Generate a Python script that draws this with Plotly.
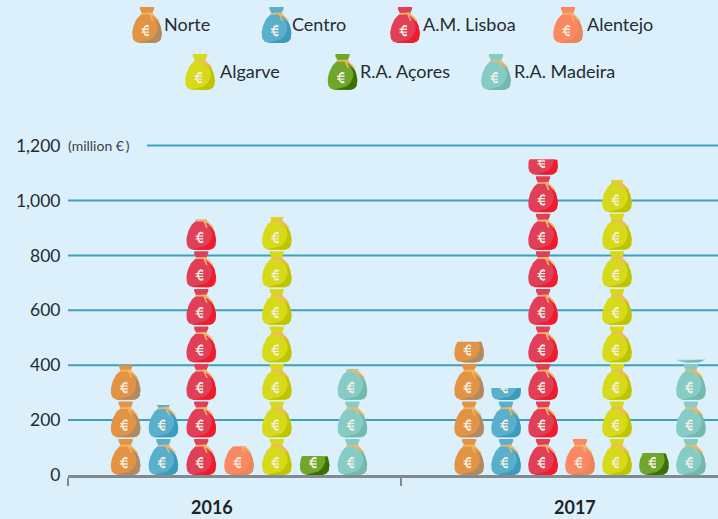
import math
import plotly.graph_objects as go

# ---- data ----
years = ["2016", "2017"]
regions = ["Norte", "Centro", "A.M. Lisboa", "Alentejo", "Algarve", "R.A. Açores", "R.A. Madeira"]
values_2016 = [400, 255, 930, 105, 940, 69, 386]
values_2017 = [485, 317, 1150, 135, 1075, 80, 420]
y_ticks = [0, 200, 400, 600, 800, 1000, 1200]
y_tick_labels = ["0", "200", "400", "600", "800", "1,000", "1,200"]
unit_label = "(million €\u2009)"
bag_value = 136.7  # one bag on the value axis

# ---- styles ----
base_colors = ["#E39344", "#58B0CC", "#E13F57", "#FB8763", "#D6DA18", "#70A72B", "#84CCC5"]
dark_colors = ["#B08A63", "#3C9ABD", "#F01C2B", "#E8875A", "#BEC400", "#3B7103", "#75B8AE"]
TIE = "#F1B768"
EURO = "#F4EEDF"
BG = "#DCF0FC"
GRID = "#3F9FBF"
AXIS = "#7F8A92"
TEXT = "#262B31"
FONT = "Lato"

# layout of figure
W, H = 718, 519
PX_LEFT, PX_ZERO, PX_TOP = 68, 475, 130
PX_PER_VALUE = 0.2745
PX_PER_GROUP = 333
X_RANGE = [-0.5, -0.5 + (W - PX_LEFT) / PX_PER_GROUP]
Y_RANGE = [0, (PX_ZERO - PX_TOP) / PX_PER_VALUE]
group_center = [0.0135, 1.0375]
group_step = [0.1135, 0.111]
bag_width = 0.0886
year_label_x = [-0.068, 1.0225]

# legend placement, in page pixels
legend_bag_x = [147, 276.5, 405, 568, 200, 342.5, 496]
legend_bag_bottom = [43, 43, 43, 43, 90, 90, 90]
legend_text_x = [163, 291, 422, 586, 219, 359, 513]
legend_text_y = [24, 24, 24, 24, 71, 71, 71]
legend_bag_w, legend_bag_h = 29.5, 37.5


def smooth(points, n=6):
    """Catmull-Rom through template points."""
    out = []
    p = [points[0]] + points + [points[-1]]
    for i in range(1, len(p) - 2):
        for k in range(n):
            t = k / n
            row = []
            for a in range(2):
                p0, p1, p2, p3 = p[i - 1][a], p[i][a], p[i + 1][a], p[i + 2][a]
                row.append(0.5 * (2 * p1 + (p2 - p0) * t + (2 * p0 - 5 * p1 + 4 * p2 - p3) * t * t
                                  + (3 * p1 - p0 - 3 * p2 + p3) * t ** 3))
            out.append(tuple(row))
    out.append(points[-1])
    return out


neck = [(0.24, 0.96), (0.24, 0.90), (0.20, 0.84), (0.16, 0.78)]
belly = [(0.16, 0.78), (0.30, 0.69), (0.41, 0.55), (0.485, 0.37), (0.50, 0.22), (0.46, 0.09), (0.34, 0.015), (0.15, 0.0)]
right_dense = neck[:-1] + smooth(belly)
BODY = right_dense + [(-u, v) for u, v in reversed(right_dense)]

shade_outer = smooth([(0.16, 0.78), (0.30, 0.69), (0.41, 0.55), (0.485, 0.37), (0.50, 0.22),
                      (0.46, 0.09), (0.34, 0.015), (0.15, 0.0), (-0.15, 0.0), (-0.32, 0.015)])
shade_inner = smooth([(-0.32, 0.015), (-0.08, 0.05), (0.18, 0.12), (0.34, 0.3), (0.35, 0.5), (0.16, 0.78)])
SHADE = shade_outer + shade_inner

TIE_SHAPES = [
    [(-0.2, 0.80), (0.2, 0.81), (0.2, 0.765), (-0.2, 0.755)],
    [(0.08, 0.81), (0.24, 0.75), (0.42, 0.60), (0.38, 0.57), (0.22, 0.70), (0.06, 0.765)],
    [(0.1, 0.80), (0.22, 0.60), (0.17, 0.59), (0.07, 0.765)],
]

cu, cv, ru, rv = -0.0, 0.33, 0.14, 0.155
arc_angles = [math.radians(55 + 250 * k / 20) for k in range(21)]
EURO_ARC = [(cu + ru * math.cos(a), cv + rv * math.sin(a)) for a in arc_angles] + \
           [(cu + 0.64 * ru * math.cos(a), cv + 0.64 * rv * math.sin(a)) for a in reversed(arc_angles)]
EURO_BARS = [
    [(cu - 1.35 * ru, cv + 0.055), (cu - 1.35 * ru, cv + 0.02), (cu + 0.5 * ru, cv + 0.02), (cu + 0.5 * ru, cv + 0.055)],
    [(cu - 1.35 * ru, cv - 0.02), (cu - 1.35 * ru, cv - 0.055), (cu + 0.5 * ru, cv - 0.055), (cu + 0.5 * ru, cv - 0.02)],
]


def add_poly(store, poly, cx, base, w, h, vmax):
    for u, v in poly:
        store[0].append(cx + u * w)
        store[1].append(base + min(v, vmax) * h)
    store[0].append(None)
    store[1].append(None)


def add_bag(layers, cx, base, w, h, vmax=1.0):
    add_poly(layers["base"], BODY, cx, base, w, h, vmax)
    add_poly(layers["dark"], SHADE, cx, base, w, h, vmax)
    for t in TIE_SHAPES:
        add_poly(layers["tie"], t, cx, base, w, h, vmax)
    if vmax > cv - rv:
        add_poly(layers["euro"], EURO_ARC, cx, base, w, h, vmax)
        for b in EURO_BARS:
            add_poly(layers["euro"], b, cx, base, w, h, vmax)


def new_layers():
    return {k: ([], []) for k in ("base", "dark", "tie", "euro")}


def add_traces(fig, layers, i, name, xaxis="x", yaxis="y"):
    cols = {"base": base_colors[i], "dark": dark_colors[i], "tie": TIE, "euro": EURO}
    for key in ("base", "dark", "tie", "euro"):
        xs, ys = layers[key]
        fig.add_trace(go.Scatter(x=xs, y=ys, mode="lines", fill="toself", fillcolor=cols[key],
                                 line=dict(width=0, color=cols[key]), hoverinfo="skip", name=name,
                                 showlegend=False, xaxis=xaxis, yaxis=yaxis))


fig = go.Figure()
all_values = [values_2016, values_2017]
for i, region in enumerate(regions):
    layers = new_layers()
    for g, vals in enumerate(all_values):
        cx = group_center[g] + (i - 3) * group_step[g]
        bags = vals[i] / bag_value
        k = 0
        while k < bags:
            add_bag(layers, cx, k * bag_value, bag_width, bag_value, min(1.0, bags - k))
            k += 1
    add_traces(fig, layers, i, region)
    # key icon
    key = new_layers()
    add_bag(key, legend_bag_x[i], legend_bag_bottom[i], legend_bag_w, -legend_bag_h)
    add_traces(fig, key, i, region, "x2", "y2")

shapes = []
for t in y_ticks[1:]:
    x0 = 147 / W if t == 1200 else PX_LEFT / W
    shapes.append(dict(type="line", xref="paper", yref="y", x0=x0, x1=1, y0=t, y1=t,
                       line=dict(color=GRID, width=2), layer="below"))

annotations = []
for i, region in enumerate(regions):
    annotations.append(dict(xref="paper", yref="paper", x=legend_text_x[i] / W, y=1 - legend_text_y[i] / H,
                            xanchor="left", yanchor="middle", text=region, showarrow=False, borderpad=0,
                            font=dict(family=FONT, size=18, color=TEXT)))
for g, yr in enumerate(years):
    annotations.append(dict(xref="x", yref="paper", x=year_label_x[g], y=1 - 507 / H, xanchor="center",
                            yanchor="middle", text=f"<b>{yr}</b>", showarrow=False,
                            font=dict(family=FONT, size=18, color="#1E2226")))
annotations.append(dict(xref="paper", yref="y", x=66 / W, y=1200, xanchor="left", yanchor="middle",
                        text=unit_label, showarrow=False, font=dict(family=FONT, size=14, color="#3A3F45")))

fig.update_layout(
    width=W, height=H, margin=dict(l=0, r=0, t=0, b=0), autosize=False,
    paper_bgcolor=BG, plot_bgcolor="rgba(0,0,0,0)", showlegend=False,
    shapes=shapes, annotations=annotations,
    xaxis=dict(domain=[PX_LEFT / W, 1], range=X_RANGE, tickvals=[-0.5, 0.5, 1.5], showticklabels=False,
               ticks="outside", ticklen=8, tickwidth=2, tickcolor=AXIS, showgrid=False, zeroline=False,
               showline=True, linecolor=AXIS, linewidth=3, anchor="y", automargin=False),
    yaxis=dict(domain=[(H - PX_ZERO) / H, (H - PX_TOP) / H], range=Y_RANGE, tickvals=y_ticks,
               ticktext=y_tick_labels, ticks="outside", ticklen=3, tickcolor="rgba(0,0,0,0)",
               showgrid=False, zeroline=False, showline=False, anchor="x", automargin=False,
               tickfont=dict(family=FONT, size=17.5, color=TEXT)),
    xaxis2=dict(domain=[0, 1], range=[0, W], visible=False, anchor="y2", automargin=False),
    yaxis2=dict(domain=[0, 1], range=[H, 0], visible=False, anchor="x2", automargin=False),
)
fig.write_html("out.html", config={"displayModeBar": False},
               post_script="document.body.style.margin='0';document.body.style.background='" + BG + "';")
